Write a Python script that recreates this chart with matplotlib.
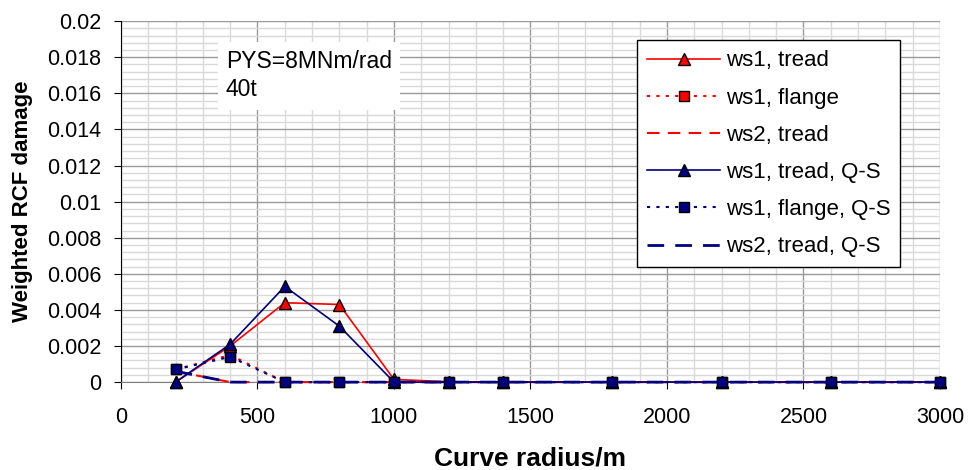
import matplotlib
matplotlib.use("Agg")
import matplotlib.pyplot as plt
from matplotlib.ticker import MultipleLocator

radius = [200, 400, 600, 800, 1000, 1200, 1400, 1800, 2200, 2600, 3000]

ws1_tread = [0.0, 0.0020, 0.0044, 0.0043, 0.00015, 0.00002, 0.0, 0.0, 0.0, 0.0, 0.0]
ws1_flange = [0.0007, 0.0015, 0.0, 0.0, 0.0, 0.0, 0.0, 0.0, 0.0, 0.0, 0.0]
ws2_tread = [0.0006, 0.0, 0.0, 0.0, 0.0, 0.0, 0.0, 0.0, 0.0, 0.0, 0.0]
ws1_tread_qs = [0.0, 0.0021, 0.0053, 0.0031, 0.0, 0.0, 0.0, 0.0, 0.0, 0.0, 0.0]
ws1_flange_qs = [0.0007, 0.0014, 0.0, 0.0, 0.0, 0.0, 0.0, 0.0, 0.0, 0.0, 0.0]
ws2_tread_qs = [0.0006, 0.0, 0.0, 0.0, 0.0, 0.0, 0.0, 0.0, 0.0, 0.0, 0.0]

y_ticks = [0, 0.002, 0.004, 0.006, 0.008, 0.01, 0.012, 0.014, 0.016, 0.018, 0.02]
y_tick_labels = ['0', '0.002', '0.004', '0.006', '0.008', '0.01', '0.012', '0.014', '0.016', '0.018', '0.02']

plt.rcParams['font.family'] = ['Liberation Sans', 'DejaVu Sans']

fig = plt.figure(figsize=(9.68, 4.70), dpi=100)
ax = fig.add_axes([0.125, 0.187, 0.846, 0.768])

red = '#FF0000'
navy = '#000080'
tri = 8.5
sq = 7.5

ax.plot(radius, ws1_tread, color=red, lw=1.2, marker='^', ms=tri, mfc=red, mec='black', mew=1.0,
        label='ws1, tread', zorder=3, clip_on=False)
ax.plot(radius, ws1_flange, color=red, lw=1.5, ls=(0, (1.5, 3)), marker='s', ms=sq, mfc=red, mec='black', mew=1.0,
        label='ws1, flange', zorder=3, clip_on=False)
ax.plot(radius, ws2_tread, color=red, lw=1.5, ls=(0, (6, 4)), label='ws2, tread', zorder=3, clip_on=False)
ax.plot(radius, ws1_tread_qs, color=navy, lw=1.2, marker='^', ms=tri, mfc=navy, mec='black', mew=1.0,
        label='ws1, tread, Q-S', zorder=4, clip_on=False)
ax.plot(radius, ws1_flange_qs, color=navy, lw=1.5, ls=(0, (1.5, 3)), marker='s', ms=sq, mfc=navy, mec='black', mew=1.0,
        label='ws1, flange, Q-S', zorder=4, clip_on=False)
ax.plot(radius, ws2_tread_qs, color=navy, lw=2.0, ls=(0, (6, 4)), label='ws2, tread, Q-S', zorder=4, clip_on=False)

ax.set_xlim(0, 3000)
ax.set_ylim(0, 0.02)
ax.xaxis.set_major_locator(MultipleLocator(500))
ax.xaxis.set_minor_locator(MultipleLocator(100))
ax.yaxis.set_minor_locator(MultipleLocator(0.0004))
ax.set_yticks(y_ticks)
ax.set_yticklabels(y_tick_labels)

ax.grid(which='major', color='#9a9a9a', lw=1.0)
ax.grid(which='minor', color='#d9d9d9', lw=1.0)
ax.set_axisbelow(True)
ax.tick_params(which='major', direction='out', length=5, labelsize=15.5, color='black')
ax.tick_params(which='minor', length=0)
ax.tick_params(axis='x', pad=13)
ax.tick_params(axis='y', pad=9)
for side in ['top', 'right']:
    ax.spines[side].set_visible(False)
ax.spines['bottom'].set_color('#808080')

ax.set_xlabel('Curve radius/m', fontsize=19, fontweight='bold', labelpad=13)
ax.set_ylabel('Weighted RCF damage', fontsize=16, fontweight='bold', labelpad=10)

ax.text(0.128, 0.92, 'PYS=8MNm/rad\n40t', transform=ax.transAxes, fontsize=16.5,
        va='top', ha='left', linespacing=1.3,
        bbox=dict(facecolor='white', edgecolor='none', pad=6))

leg = ax.legend(loc='upper left', bbox_to_anchor=(0.630, 0.947), borderaxespad=0, fontsize=16,
                frameon=True, fancybox=False, edgecolor='black', framealpha=1,
                handlelength=3.3, labelspacing=0.73, borderpad=0.45, handletextpad=0.25)
leg.get_frame().set_linewidth(1.0)

fig.savefig('out.png', dpi=100)
